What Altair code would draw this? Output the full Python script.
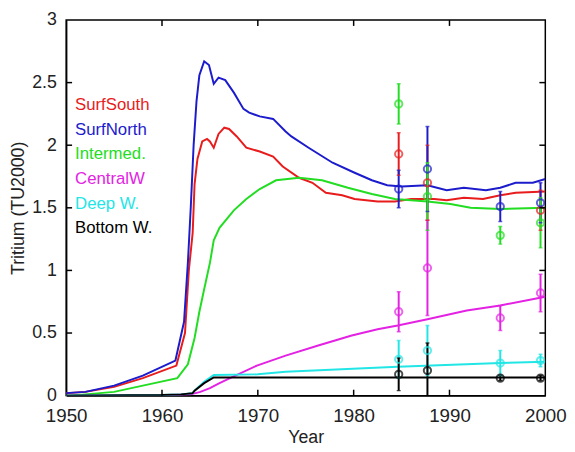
import altair as alt
import pandas as pd

series = ["SurfSouth", "SurfNorth", "Intermed.", "CentralW", "Deep W.", "Bottom W."]
colors = ["#e81c1c", "#1c1ccc", "#22dd22", "#e322e3", "#22e6e6", "#000000"]

# model curves
ss_years = [1950, 1952, 1955, 1958, 1961.5, 1962.4, 1962.8, 1963.2, 1963.4, 1963.7, 1964.2, 1964.7, 1965.0,
            1965.4, 1965.9, 1966.5, 1967.0, 1967.8, 1968.8, 1970.2, 1971.6, 1972.6, 1974.3, 1975.7, 1977.1,
            1978.8, 1980.1, 1982.5, 1984.3, 1986.0, 1988.4, 1989.7, 1991.5, 1993.5, 1995.3, 1996.9, 2000]
ss_vals = [0.02, 0.03, 0.07, 0.14, 0.24, 0.5, 1.0, 1.3, 1.69, 1.89, 2.03, 2.05, 2.03,
           1.98, 2.09, 2.14, 2.13, 2.07, 1.98, 1.95, 1.91, 1.83, 1.74, 1.70, 1.62,
           1.60, 1.57, 1.55, 1.55, 1.57, 1.57, 1.56, 1.58, 1.57, 1.60, 1.62, 1.63]

sn_years = [1950, 1952, 1955, 1958, 1961.4, 1962.3, 1962.7, 1963.0, 1963.3, 1963.6, 1963.9, 1964.4, 1964.9,
            1965.4, 1965.9, 1966.6, 1967.5, 1968.5, 1969.1, 1970.2, 1971.6, 1972.9, 1973.5, 1975.3, 1977.8,
            1980.1, 1981.9, 1983.5, 1985, 1987.7, 1989.7, 1991.5, 1993.8, 1995.3, 1996.9, 1998.7, 2000]
sn_vals = [0.02, 0.03, 0.08, 0.16, 0.28, 0.59, 1.06, 1.5, 2.0, 2.35, 2.56, 2.67, 2.64,
           2.49, 2.54, 2.52, 2.42, 2.29, 2.26, 2.23, 2.21, 2.11, 2.07, 1.98, 1.86,
           1.78, 1.72, 1.68, 1.67, 1.68, 1.64, 1.66, 1.64, 1.66, 1.70, 1.70, 1.73]

im_years = [1950, 1952, 1955, 1958, 1961.6, 1962.7, 1963.4, 1963.9, 1964.4, 1965.0, 1965.4, 1966.0, 1967.5,
            1968.8, 1970.2, 1971.9, 1974.3, 1976.7, 1979.4, 1981.9, 1984.3, 1987.7, 1990.1, 1992.2, 1995.3, 2000]
im_vals = [0.0, 0.01, 0.03, 0.08, 0.14, 0.25, 0.46, 0.67, 0.85, 1.06, 1.24, 1.34, 1.48,
           1.57, 1.65, 1.72, 1.74, 1.72, 1.66, 1.61, 1.57, 1.55, 1.53, 1.50, 1.49, 1.50]

cw_years = [1950, 1960, 1963, 1964, 1965, 1966, 1967.1, 1969.9, 1972.9, 1976.3, 1979.8, 1982.5, 1984.6,
            1987.7, 1991.8, 1995.3, 2000]
cw_vals = [0.0, 0.003, 0.01, 0.03, 0.06, 0.1, 0.14, 0.24, 0.32, 0.40, 0.48, 0.53, 0.56,
           0.61, 0.68, 0.72, 0.79]

dw_years = [1950, 1960, 1962, 1963.2, 1963.4, 1964.4, 1965.4, 1970, 1972.9, 1984.6, 1995.3, 2000]
dw_vals = [0.0, 0.005, 0.01, 0.02, 0.04, 0.11, 0.165, 0.17, 0.19, 0.23, 0.26, 0.27]

bw_years = [1950, 1960, 1962, 1963.2, 1963.4, 1964.4, 1965.4, 2000]
bw_vals = [0.0, 0.005, 0.01, 0.02, 0.04, 0.10, 0.145, 0.145]

# observations (mean and half error bar)
obs_years = [1984.7, 1987.7, 1995.3, 1999.5]
obs_ss = [1.93, 1.70, None, 1.48]
err_ss = [0.17, 0.30, None, 0.16]
obs_sn = [1.65, 1.81, 1.51, 1.54]
err_sn = [0.15, 0.34, 0.12, 0.16]
obs_im = [2.33, 1.59, 1.28, 1.38]
err_im = [0.16, 0.27, 0.07, 0.20]
obs_cw = [0.67, 1.02, 0.62, 0.82]
err_cw = [0.16, 0.38, 0.10, 0.15]
obs_dw = [0.29, 0.36, 0.26, 0.28]
err_dw = [0.15, 0.20, 0.10, 0.05]
obs_bw = [0.17, 0.20, 0.14, 0.14]
err_bw = [0.13, 0.22, 0.02, 0.02]

x_ticks = [1950, 1960, 1970, 1980, 1990, 2000]
y_ticks = [0, 0.5, 1, 1.5, 2, 2.5, 3]

# ---- build tables ----
curves = [(ss_years, ss_vals), (sn_years, sn_vals), (im_years, im_vals),
          (cw_years, cw_vals), (dw_years, dw_vals), (bw_years, bw_vals)]
rows = []
for s, (ys, vs) in zip(series, curves):
    for y, v in zip(ys, vs):
        rows.append({"series": s, "year": y, "value": v})
lines_df = pd.DataFrame(rows)

obs_sets = [(obs_ss, err_ss), (obs_sn, err_sn), (obs_im, err_im),
            (obs_cw, err_cw), (obs_dw, err_dw), (obs_bw, err_bw)]
orows = []
for s, (vals, errs) in zip(series, obs_sets):
    for y, v, e in zip(obs_years, vals, errs):
        if v is None:
            continue
        orows.append({"series": s, "year": y, "value": v, "lo": v - e, "hi": v + e})
obs_df = pd.DataFrame(orows)

legend_df = pd.DataFrame({"series": series, "idx": list(range(len(series)))})
xt_df = pd.DataFrame({"year": x_ticks[1:-1]})
yt_df = pd.DataFrame({"value": y_ticks[1:-1]})

W, H = 486, 381
FONT = "Liberation Sans"

color = alt.Color("series:N", scale=alt.Scale(domain=series, range=colors), legend=None)
xscale = alt.Scale(domain=[1950, 2000], nice=False, zero=False, padding=0)
yscale = alt.Scale(domain=[0, 3], nice=False, zero=False, padding=0)
xaxis = alt.Axis(values=x_ticks, format="d", title="Year", grid=False, ticks=False,
                 labelFlush=False, labelFontSize=19, labelPadding=11, titlePadding=4)
yaxis = alt.Axis(values=y_ticks, format="~g", title="Tritium (TU2000)", grid=False,
                 labelFlush=False, ticks=False, labelPadding=10, titlePadding=4)


def X(field="year:Q"):
    return alt.X(field, scale=xscale, axis=xaxis)


def Y(field="value:Q"):
    return alt.Y(field, scale=yscale, axis=yaxis)


lines = alt.Chart(lines_df).mark_line(strokeWidth=2, clip=True).encode(
    x=X(), y=Y(), color=color, detail="series:N", order="year:Q")

bars = alt.Chart(obs_df).mark_rule(strokeWidth=2, clip=True).encode(
    x=X(), y=Y("lo:Q"), y2="hi:Q", color=color)
caps_hi = alt.Chart(obs_df).mark_tick(orient="horizontal", size=4, thickness=1.5, clip=True).encode(
    x=X(), y=Y("hi:Q"), color=color)
caps_lo = alt.Chart(obs_df).mark_tick(orient="horizontal", size=4, thickness=1.5, clip=True).encode(
    x=X(), y=Y("lo:Q"), color=color)
pts = alt.Chart(obs_df).mark_point(shape="circle", filled=False, size=55, strokeWidth=2, clip=True).encode(
    x=X(), y=Y(), color=color)

legend_txt = alt.Chart(legend_df).transform_calculate(
    value="2.32 - 0.197 * datum.idx"
).mark_text(align="left", baseline="middle", font=FONT, fontSize=17).encode(
    x=alt.value(9), y=Y(), text="series:N", color=color)

tick_len = 6
xt_bot = alt.Chart(xt_df).mark_rule(color="black", strokeWidth=1.5).encode(
    x=X(), y=alt.value(H - tick_len), y2=alt.value(H))
xt_top = alt.Chart(xt_df).mark_rule(color="black", strokeWidth=1.5).encode(
    x=X(), y=alt.value(0), y2=alt.value(tick_len))
yt_left = alt.Chart(yt_df).mark_rule(color="black", strokeWidth=1.5).encode(
    y=Y(), x=alt.value(0), x2=alt.value(tick_len))
yt_right = alt.Chart(yt_df).mark_rule(color="black", strokeWidth=1.5).encode(
    y=Y(), x=alt.value(W - tick_len), x2=alt.value(W))

chart = alt.layer(
    lines, bars, caps_hi, caps_lo, pts, legend_txt, xt_bot, xt_top, yt_left, yt_right
).properties(
    width=W, height=H,
    autosize=alt.AutoSizeParams(type="none"),
    padding={"left": 59, "top": 9, "right": 22, "bottom": 54},
).configure_view(
    stroke="black", strokeWidth=1.5
).configure_axis(
    labelFont=FONT, titleFont=FONT, labelFontSize=18, titleFontSize=18,
    labelColor="#222222", titleColor="#222222", titleFontWeight="normal",
    domainColor="black", domainWidth=1.5
)

chart.save("out.html", embed_options={"renderer": "svg", "actions": False})
